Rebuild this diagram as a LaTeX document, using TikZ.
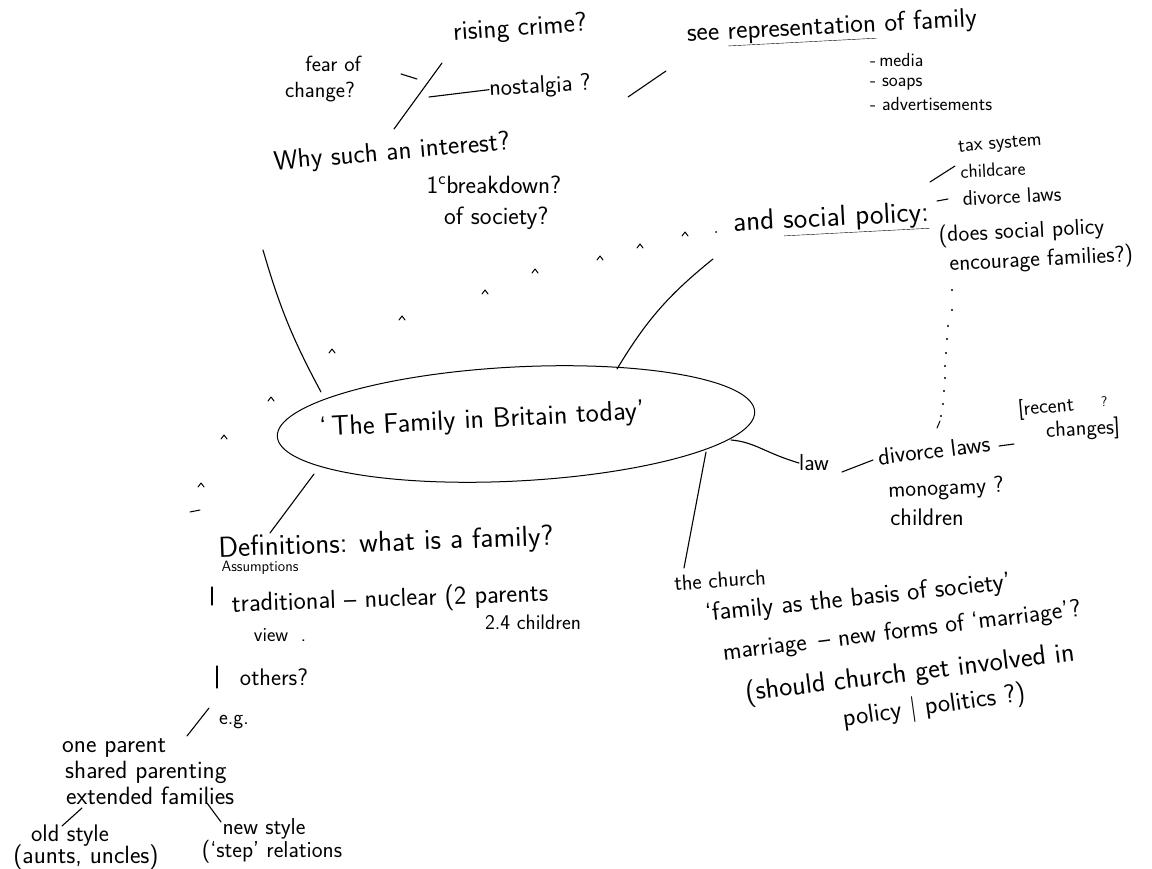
\documentclass[tikz,border=0pt]{standalone}
\usetikzlibrary{shapes.geometric}
\begin{document}
\begin{tikzpicture}[x=1pt,y=-1pt,
  hw/.style={font=\sffamily\fontsize{#1}{#1}\selectfont, inner sep=0pt, align=center},
  ln/.style={line width=1.1pt, line cap=round, line join=round},
  tk/.style={line width=1pt, line cap=round, line join=round},
  dotm/.style={circle, fill=black, inner sep=0pt, minimum size=2.4pt}]
\fill[white] (0,0) rectangle (1152,869);
\useasboundingbox (0,0) rectangle (1152,869);

% ---------- centre ----------
\node[ellipse, draw, line width=1pt, minimum width=478pt, minimum height=114pt, rotate=3] (centre) at (516,424) {};
\node[hw=28, rotate=3] (title) at (482,421) {‘\,The Family in Britain today’};

% ---------- top left ----------
\node[hw=27, rotate=4] (crime) at (520,29) {rising crime?};
\node[hw=22, align=center] (fear) at (320,79) {\hspace*{1.2em}fear of\\[4pt]change?};
\node[hw=24, rotate=3] (nost) at (540,87) {nostalgia ?};
\node[hw=27, rotate=5] (why) at (392,153) {Why such an interest?};
\node[hw=25, align=left] (brk) at (494,203) {1\textsuperscript{c}breakdown?\\[6pt]\hspace*{0.7em}of society?};

\coordinate (slA) at (394,129); \coordinate (slB) at (442,63);
\draw[ln] (slA) -- (slB);
\coordinate (fdA) at (401,74); \coordinate (fdB) at (417,79);
\draw[ln] (fdA) -- (fdB);
\coordinate (nsA) at (429,97);
\draw[ln] (nsA) -- (nost.west);

% ---------- representation ----------
\node[hw=27, rotate=3] (see) at (832,28) {see \underline{representation} of family};
\coordinate (seA) at (628,97); \coordinate (seB) at (666,71);
\draw[ln] (seA) -- (seB);
\node[hw=19, anchor=west] (media) at (870,60) {-\,media};
\node[hw=19, anchor=west] (soaps) at (870,84) {- soaps};
\node[hw=19, anchor=west] (adv) at (870,104) {- advertisements};

% ---------- social policy ----------
\node[hw=29, rotate=3] (pol) at (831,220) {and \underline{social policy:}};
\node[hw=20, rotate=5] (tax) at (1000,145) {tax system};
\node[hw=19, rotate=3] (child) at (993,170) {childcare};
\node[hw=21, rotate=3] (divl) at (1012,196) {divorce laws};
\node[hw=23, rotate=3, align=left] (does) at (1036,246) {(does social policy\\[6pt]\hspace*{0.4em}encourage families?)};
\coordinate (tcA) at (930,182); \coordinate (tcB) at (955,166);
\draw[ln] (tcA) -- (tcB);
\coordinate (ddA) at (937,201); \coordinate (ddB) at (948,199);
\draw[ln] (ddA) -- (ddB);
\foreach \yy/\xx in {290/952,310/952,326/948,339/947,353/946,366/945,378/945,391/944,404/943,416/941}
  \node[dotm] at (\xx,\yy) {};
\coordinate (dsA) at (940,421); \coordinate (dsB) at (937,428);
\draw[tk] (dsA) -- (dsB);

% ---------- faint arc of ticks ----------
\foreach \px/\py in {685/233,640/245,600/257,535/270,485/291,402/317,332/350,271/398,224/436,201/484}
  \draw[tk] (\px,\py) ++(-3,3) -- ++(3,-4) -- ++(3,4);
\node[dotm, minimum size=2pt] (tdot) at (716,232) {};
\coordinate (tkA) at (190,512); \coordinate (tkB) at (200,510);
\draw[tk] (tkA) -- (tkB);

% ---------- law ----------
\node[hw=23] (law) at (814,463) {law};
\node[hw=24, rotate=7] (divl2) at (934,450) {divorce laws};
\node[hw=23, rotate=3] (mono) at (946,489) {monogamy ?};
\node[hw=24] (childr) at (927,517) {children};
\node[hw=21, rotate=5] (rec) at (1046,408) {[recent};
\node[hw=22, rotate=3] (chg) at (1083,430) {changes]};
\node[hw=14] (recq) at (1104,402) {?};
\coordinate (dlA) at (999,446); \coordinate (dlB) at (1014,444);
\draw[ln] (dlA) -- (dlB);
\coordinate (lwA) at (842,472); \coordinate (lwB) at (873,460);
\draw[ln] (lwA) -- (lwB);

% ---------- church ----------
\node[hw=22, rotate=4] (church) at (720,580) {the church};
\node[hw=26, rotate=6] (basis) at (858,599) {‘family as the basis of society’};
\node[hw=25, rotate=7] (marr) at (902,632) {marriage \,– new forms of ‘marriage’?};
\node[hw=28, rotate=7] (should) at (910,674) {(should church get involved in};
\node[hw=26, rotate=8] (politics) at (934,707) {policy | politics ?)};

% ---------- definitions ----------
\node[hw=29, rotate=2] (defs) at (386,544) {Definitions: what is a family?};
\node[hw=15] (assum) at (260,568) {Assumptions};
\node[hw=26, rotate=2] (trad) at (390,600) {traditional – nuclear (2 parents};
\node[hw=21] (twofour) at (533,622) {2.4 children};
\node[hw=20] (view) at (280,635) {view \ .};
\node[hw=24] (others) at (274,677) {others?};
\node[hw=21] (eg) at (234,722) {e.g.};
\node[hw=25, anchor=west] (onep) at (62,748) {one parent};
\node[hw=25, anchor=west] (shared) at (65,772) {shared parenting};
\node[hw=25, anchor=west] (ext) at (66,796) {extended families};
\node[hw=24] (olds) at (70,836) {old style};
\node[hw=25] (aunts) at (86,857) {(aunts, uncles)};
\node[hw=23] (news) at (264,829) {new style};
\node[hw=23] (step) at (272,852) {(‘step’ relations};

\coordinate (b1A) at (212,587); \coordinate (b1B) at (212,605);
\draw[ln] (b1A) -- (b1B);
\coordinate (b2A) at (217,666); \coordinate (b2B) at (217,688);
\draw[ln] (b2A) -- (b2B);
\coordinate (egA) at (187,736); \coordinate (egB) at (209,708);
\draw[ln] (egA) -- (egB);
\coordinate (osA) at (82,808); \coordinate (osB) at (62,826);
\draw[ln] (osA) -- (osB);
\coordinate (nsB1) at (207,803); \coordinate (nsB2) at (221,822);
\draw[ln] (nsB1) -- (nsB2);

% ---------- branches from centre ----------
\coordinate (ulA) at (321,392); \coordinate (ulB) at (263,250);
\draw[ln] (ulA) to[bend left=6] (ulB);
\coordinate (urA) at (617,369); \coordinate (urB) at (713,259);
\draw[ln] (urA) to[bend left=10] (urB);
\coordinate (dlfA) at (314,474); \coordinate (dlfB) at (270,533);
\draw[ln] (dlfA) -- (dlfB);
\coordinate (chA) at (706,452); \coordinate (chB) at (684,568);
\draw[ln] (chA) -- (chB);
\coordinate (lawA) at (731,440);
\draw[ln] (lawA) .. controls (755,442) and (765,453) .. (law.west);
\end{tikzpicture}
\end{document}
